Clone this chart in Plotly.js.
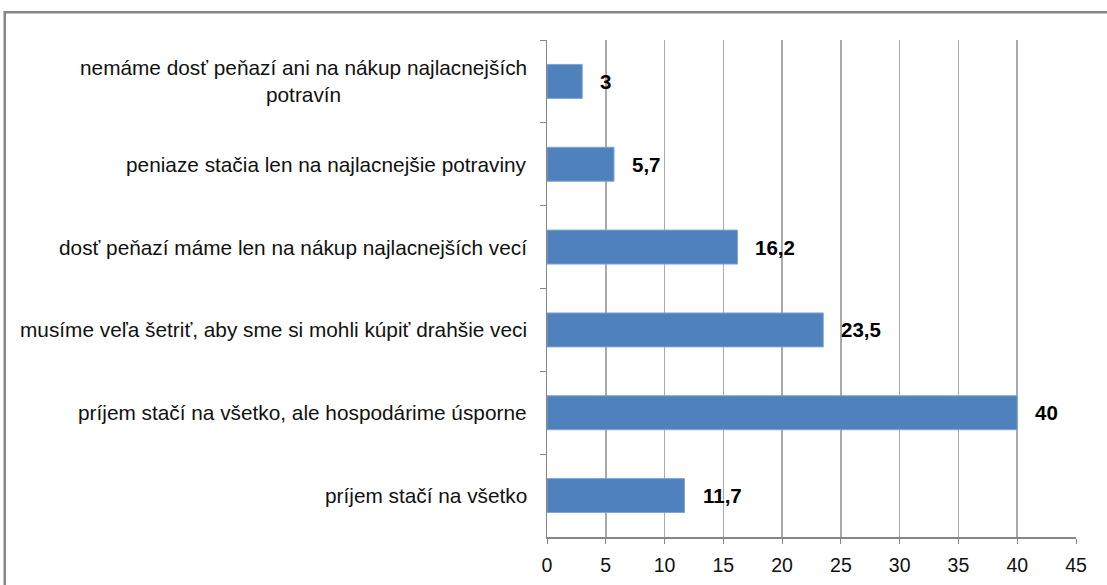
<!DOCTYPE html>
<html>
<head>
<meta charset="utf-8">
<script src="https://cdn.plot.ly/plotly-3.0.1.min.js"></script>
<style>
html,body{margin:0;padding:0;background:#fff;}
#chart{width:1107px;height:585px;}
</style>
</head>
<body>
<div id="chart"></div>
<script>
var categories = [
  "nemáme dosť peňazí ani na nákup najlacnejších<br>potravín",
  "peniaze stačia len na najlacnejšie potraviny",
  "dosť peňazí máme len na nákup najlacnejších vecí",
  "musíme veľa šetriť, aby sme si mohli kúpiť drahšie veci",
  "príjem stačí na všetko, ale hospodárime úsporne",
  "príjem stačí na všetko"
];
var values = [3, 5.7, 16.2, 23.5, 40, 11.7];
var valueLabels = ["3", "5,7", "16,2", "23,5", "40", "11,7"];
var xTicks = [0, 5, 10, 15, 20, 25, 30, 35, 40, 45];

var FONT = "Liberation Sans, Arial, sans-serif";

var trace = {
  type: "bar",
  orientation: "h",
  y: categories,
  x: values,
  width: 0.41,
  marker: {color: "#4F81BD", line: {color: "#7FA4D4", width: 1}},
  hoverinfo: "none"
};

var annotations = [];
categories.forEach(function (c, i) {
  annotations.push({
    xref: "paper", yref: "y", x: 0, y: c, xanchor: "right", yanchor: "middle",
    xshift: -18, text: c, showarrow: false, align: "center",
    font: {family: FONT, size: 20.8, color: "#111"}
  });
  annotations.push({
    xref: "x", yref: "y", x: values[i], y: c, xanchor: "left", yanchor: "middle",
    xshift: 16, text: "<b>" + valueLabels[i] + "</b>", showarrow: false,
    font: {family: FONT, size: 20.5, color: "#000"}
  });
});

var layout = {
  width: 1107, height: 585,
  margin: {l: 547, r: 31, t: 40, b: 48},
  paper_bgcolor: "#fff", plot_bgcolor: "#fff",
  showlegend: false,
  xaxis: {
    range: [0, 45], tickvals: xTicks, ticktext: xTicks.map(String),
    showgrid: true, gridcolor: "#AAAAAA", gridwidth: 1.5,
    zeroline: false, showline: true, linecolor: "#868686", linewidth: 1.5,
    ticks: "outside", ticklen: 5, tickcolor: "#868686", ticklabelstandoff: 5,
    tickfont: {family: FONT, size: 19.5, color: "#111"}, fixedrange: true
  },
  yaxis: {
    type: "category", autorange: "reversed", showticklabels: false,
    tickson: "boundaries", ticks: "outside", ticklen: 6, tickcolor: "#868686",
    showgrid: false, zeroline: false, showline: true, linecolor: "#868686", linewidth: 1.5,
    fixedrange: true
  },
  annotations: annotations,
  shapes: [{
    type: "rect", xref: "paper", yref: "paper",
    x0: -1.025, x1: 1.2, y0: -0.3, y1: 1.056,
    line: {color: "#868686", width: 2.5}, fillcolor: "rgba(0,0,0,0)", layer: "below"
  }]
};

Plotly.newPlot("chart", [trace], layout, {displayModeBar: false, staticPlot: true});
</script>
</body>
</html>
